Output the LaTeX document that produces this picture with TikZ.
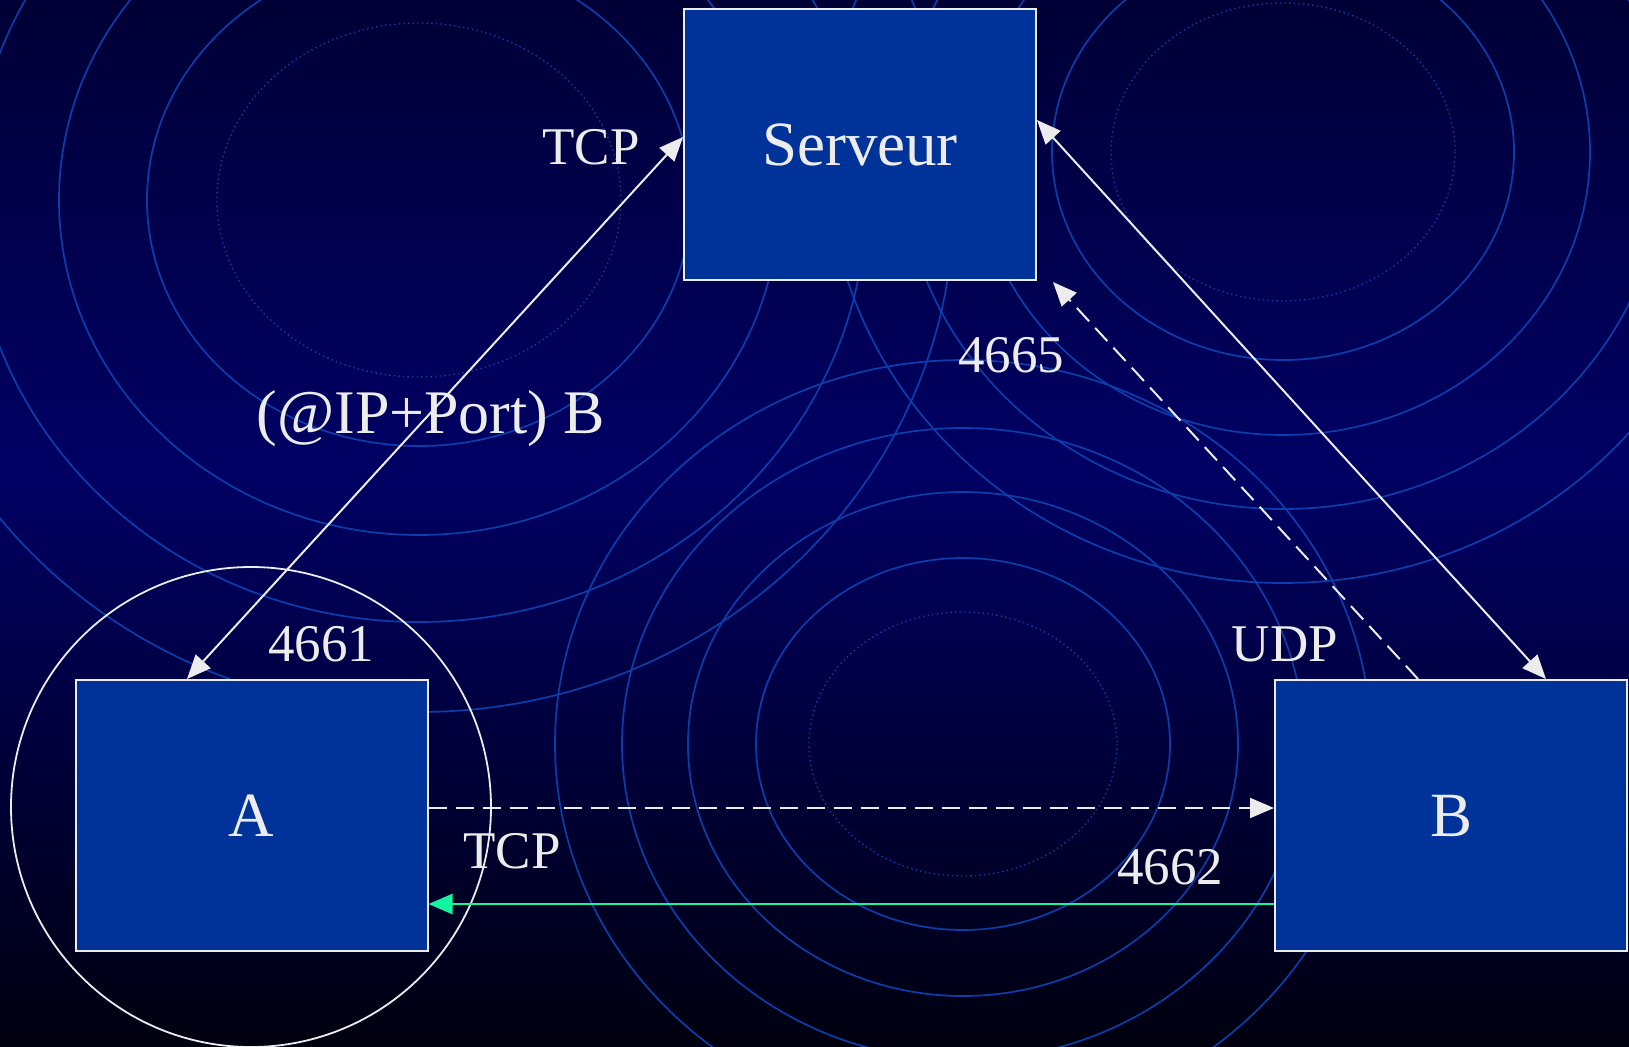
\documentclass[tikz,border=0pt]{standalone}
\usepackage{fontspec}
\setmainfont{Liberation Serif}
\usetikzlibrary{arrows.meta,calc}
\definecolor{bgtop}{RGB}{0,0,54}
\definecolor{bgmid}{RGB}{0,0,100}
\definecolor{bgbot}{RGB}{0,0,16}
\definecolor{ring}{RGB}{12,62,170}
\definecolor{boxfill}{RGB}{0,51,153}
\definecolor{ink}{RGB}{236,236,236}
\definecolor{ack}{RGB}{20,245,160}

\begin{document}
\begin{tikzpicture}[x=0.5pt,y=-0.5pt,
  ringline/.style={draw=ring,line width=0.85pt},
  ringdots/.style={draw=ring,line width=0.7pt,dash pattern=on 0.7pt off 1.6pt},
  hostbox/.style={draw=ink,fill=boxfill,line width=1pt,minimum width=176pt,
    minimum height=135.5pt,inner sep=0pt,text=ink,font=\fontsize{31.5}{36}\selectfont},
  lbl/.style={text=ink,inner sep=0pt,anchor=base,font=\fontsize{26.5}{30}\selectfont},
  biglbl/.style={lbl,font=\fontsize{31}{36}\selectfont},
  link/.style={draw=ink,line width=1pt,>={Triangle[length=12pt,width=10pt]}},
  dashlink/.style={link,dash pattern=on 9pt off 4.5pt},
]
\useasboundingbox (0,0) rectangle (1629,1046);

% background gradient
\shade[top color=bgtop,bottom color=bgmid] (0,0) rectangle (1629,470);
\shade[top color=bgmid,bottom color=bgbot] (0,470) rectangle (1629,1046);

% concentric ripple rings
\begin{scope}
\clip (0,0) rectangle (1629,1046);
\draw[ringdots] (419,200) ellipse [x radius=202,y radius=177];
\foreach \rx/\ry in {272/246,360/335,447/422,535/512}
  \draw[ringline] (419,200) ellipse [x radius=\rx,y radius=\ry];
\draw[ringdots] (1283,152) ellipse [x radius=172,y radius=149];
\foreach \rx/\ry in {231/208,307/283,382/357,456/431}
  \draw[ringline] (1283,152) ellipse [x radius=\rx,y radius=\ry];
\draw[ringdots] (963,744) ellipse [x radius=154,y radius=132];
\foreach \rx/\ry in {207/186,275/252,341/316,408/384}
  \draw[ringline] (963,744) ellipse [x radius=\rx,y radius=\ry];
\end{scope}

% circle around host A
\draw[ink,line width=0.9pt] (251,807) circle [radius=240];

% hosts
\node[hostbox] (srv) at (860,144.5) {Serveur};
\node[hostbox] (A) at (251.5,815.5) {A};
\node[hostbox] (B) at (1451,815.5) {B};

% connections
\draw[link,<->] ($(A.north west)+(112.5,0)$) -- ($(srv.west)+(0,-7.5)$);
\draw[link,<->] ($(srv.east)+(0,-24.5)$) -- ($(B.north west)+(272,0)$);
\draw[dashlink,->] ($(B.north west)+(144,0)$) -- ($(srv.south east)+(16,1)$);
\draw[dashlink,->] ($(A.east)+(0,-7.5)$) -- ($(B.west)+(0,-7.5)$);
\draw[link,draw=ack,line width=1.3pt,->,>={Triangle[length=12pt,width=10pt,fill=ack]}] ($(B.west)+(0,88.5)$) -- ($(A.east)+(0,88.5)$);

% labels
\node[lbl] (tcpsrv) at (591,164) {TCP};
\node[biglbl] (ipport) at (431,433) {(@IP+Port) B};
\node[lbl] (p4665) at (1011,372) {4665};
\node[lbl] (p4661) at (321,661) {4661};
\node[lbl] (udp) at (1285,661) {UDP};
\node[lbl] (tcpab) at (512,868) {TCP};
\node[lbl] (p4662) at (1170,884) {4662};
\end{tikzpicture}
\end{document}
